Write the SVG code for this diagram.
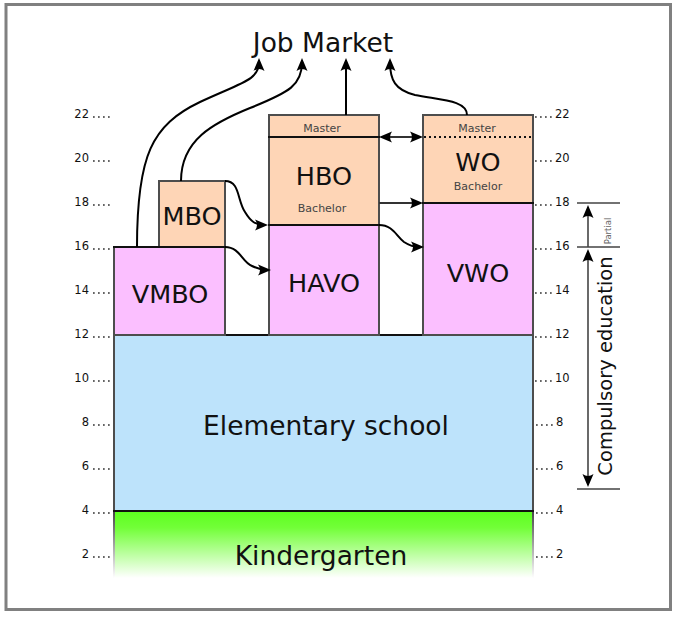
<svg xmlns="http://www.w3.org/2000/svg" width="676" height="618" viewBox="0 0 676 618">
<style>
text{font-family:"DejaVu Sans","Liberation Sans",sans-serif;fill:#111}
.box{stroke:#4d4d4d;stroke-width:2}
.pink{fill:#fbbfff}
.peach{fill:#fed5b6}
.big{font-size:25.5px;text-anchor:middle}
.huge{font-size:26.5px;text-anchor:middle}
.small{font-size:11px;text-anchor:middle;fill:#444}
.tick{font-size:11.5px;fill:#333}
.dots{stroke:#333;stroke-width:1.7;stroke-dasharray:1.7 3.3;fill:none}
.edge{fill:none;stroke:#000;stroke-width:2}
.bound{stroke:#111;stroke-width:2.2}
.scale{stroke:#444;stroke-width:1.6;fill:none}
</style>
<defs>
<marker id="ah" markerUnits="userSpaceOnUse" viewBox="-10 -6 15 12" refX="0" refY="0" markerWidth="15" markerHeight="12" orient="auto-start-reverse">
<path d="M4,0 L-9,-5.5 Q-5,0 -9,5.5 Z" fill="#000"/>
</marker>
<linearGradient id="kg" x1="0" y1="0" x2="0" y2="1">
<stop offset="0" stop-color="#5cff1e"/>
<stop offset="0.25" stop-color="#72ff38"/>
<stop offset="1" stop-color="#ffffff"/>
</linearGradient>
<linearGradient id="ks" gradientUnits="userSpaceOnUse" x1="0" y1="511" x2="0" y2="578">
<stop offset="0" stop-color="#444"/>
<stop offset="1" stop-color="#fff"/>
</linearGradient>
</defs>
<rect x="6" y="4.5" width="664.5" height="605" fill="#fff" stroke="#808080" stroke-width="3"/>

<g id="ticks">
<g class="tick" text-anchor="end">
<text x="89" y="118">22</text><text x="89" y="162">20</text><text x="89" y="206">18</text><text x="89" y="250">16</text>
<text x="89" y="294">14</text><text x="89" y="338">12</text><text x="89" y="382">10</text><text x="89" y="426">8</text>
<text x="89" y="470">6</text><text x="89" y="514">4</text><text x="89" y="558">2</text>
</g>
<g class="tick">
<text x="555" y="118">22</text><text x="555" y="162">20</text><text x="555" y="206">18</text><text x="555" y="250">16</text>
<text x="555" y="294">14</text><text x="555" y="338">12</text><text x="555" y="382">10</text><text x="556" y="426">8</text>
<text x="556" y="470">6</text><text x="556" y="514">4</text><text x="556" y="558">2</text>
</g>
<path class="dots" d="M93,117H113M93,161H113M93,205H113M93,249H113M93,293H113M93,337H113M93,381H113M93,425H113M93,469H113M93,513H113M93,557H113"/>
<path class="dots" d="M535,117H554M535,161H554M535,205H554M535,249H554M535,293H554M535,337H554M535,381H554M536,425H555M536,469H555M536,513H555M536,557H555"/>
</g>

<g id="kindergarten">
<rect x="114" y="511" width="419" height="67" fill="url(#kg)"/>
<path d="M114,511V578M533,511V578" stroke="url(#ks)" stroke-width="2" fill="none"/>
<text class="huge" x="321" y="565">Kindergarten</text>
</g>

<g id="elementary">
<rect class="box" x="114" y="335" width="419" height="176" fill="#bde3fb"/>
<path class="bound" d="M113,511H534M113,335H534"/>
<text class="huge" x="326" y="435">Elementary school</text>
</g>

<g id="vmbo">
<rect class="box pink" x="114" y="247" width="111" height="88"/>
<text class="big" x="170" y="303">VMBO</text>
</g>
<g id="mbo">
<rect class="box peach" x="159" y="181" width="66" height="66"/>
<path class="bound" d="M113,247H226"/>
<text class="big" x="192" y="225">MBO</text>
</g>
<g id="havo">
<rect class="box pink" x="269" y="225" width="110" height="110"/>
<text class="big" x="324" y="292">HAVO</text>
</g>
<g id="hbo">
<rect class="box peach" x="269" y="115" width="110" height="110"/>
<path class="bound" d="M268,225H380M268,137H380"/>
<text class="big" x="324" y="185">HBO</text>
<text class="small" x="322" y="212">Bachelor</text>
<text class="small" x="322" y="132">Master</text>
</g>
<g id="vwo">
<rect class="box pink" x="423" y="203" width="110" height="132"/>
<text class="big" x="478" y="282">VWO</text>
</g>
<g id="wo">
<rect class="box peach" x="423" y="115" width="110" height="88"/>
<path class="bound" d="M422,203H534"/>
<path d="M424,137H532" stroke="#111" stroke-width="2" stroke-dasharray="2 3" fill="none"/>
<text class="big" x="478" y="171">WO</text>
<text class="small" x="478" y="190">Bachelor</text>
<text class="small" x="477" y="132">Master</text>
</g>

<text id="job" class="huge" x="323" y="52">Job Market</text>

<g id="connectors">
<path class="edge" marker-end="url(#ah)" d="M137,247 C137,155 152,125 200,102 C243,82 259,80 259,62"/>
<path class="edge" marker-end="url(#ah)" d="M181,181 C181,140 213,123 250,108 C290,92 302,85 302,62"/>
<path class="edge" marker-end="url(#ah)" d="M346,115 V62"/>
<path class="edge" marker-end="url(#ah)" d="M467,115 C467,100 440,100 415,95 C395,90 390,80 390,62"/>
<path class="edge" stroke-width="1.6" style="stroke:#333" marker-start="url(#ah)" marker-end="url(#ah)" d="M383,137 H419"/>
<path class="edge" stroke-width="1.6" style="stroke:#333" marker-end="url(#ah)" d="M379,203 H419"/>
<path class="edge" marker-end="url(#ah)" d="M225,181 C240,181 237,200 245,212 C251,222 256,225 264,225"/>
<path class="edge" marker-end="url(#ah)" d="M225,247 C240,247 242,262 252,266 C258,269 262,270 267,270"/>
<path class="edge" marker-end="url(#ah)" d="M379,225 C393,225 396,236 404,242 C410,246 416,247 420,247"/>
</g>

<g id="compulsory">
<path class="scale" d="M577,203H620M577,247H620M577,489H620"/>
<path class="scale" marker-end="url(#ah)" d="M588,247V209"/>
<path class="scale" marker-start="url(#ah)" marker-end="url(#ah)" d="M588,483V253"/>
<text transform="translate(612,366) rotate(-90)" font-size="19.5" text-anchor="middle">Compulsory education</text>
<text transform="translate(611,231) rotate(-90)" font-size="8.5" text-anchor="middle" style="fill:#666">Partial</text>
</g>
</svg>
